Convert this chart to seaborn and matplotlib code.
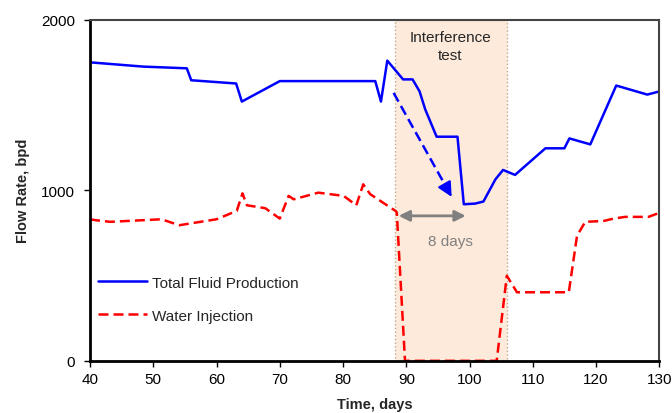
import numpy as np
import pandas as pd
import matplotlib
matplotlib.use("Agg")
import matplotlib.pyplot as plt
import seaborn as sns

# values
prod_days = [40, 48.4, 55.3, 56, 63.1, 64, 70, 85.1, 86, 87, 89.5, 91, 92.1, 93, 94.8,
             98.1, 99.1, 100.9, 102.2, 104.1, 105.3, 107.2, 112, 115, 115.8, 119.1,
             123.2, 128.1, 130.2]
prod_rate = [1750, 1725, 1715, 1645, 1626, 1520, 1640, 1640, 1520, 1760, 1650, 1650,
             1580, 1474, 1314, 1314, 918, 922, 934, 1064, 1119, 1090, 1246, 1246,
             1304, 1269, 1614, 1561, 1581]

inj_days = [40, 40.8, 43.2, 51.3, 54.1, 60, 63.2, 64.1, 64.8, 67.7, 70, 71.4, 72.2,
            76.1, 80.1, 82.1, 83.2, 84.3, 88.3, 88.5, 89.8, 104.3, 105.9, 107.5,
            115.7, 117, 118.3, 121.2, 122.8, 124.6, 128.3, 130.4]
inj_rate = [830, 825, 815, 830, 795, 830, 879, 982, 912, 895, 834, 967, 947,
            986, 967, 912, 1035, 977, 879, 870, 0, 0, 499, 402,
            402, 733, 815, 820, 834, 844, 844, 873]

test_start, test_end = 88.2, 105.9

prod = pd.DataFrame({"Time": prod_days, "Rate": prod_rate})
inj = pd.DataFrame({"Time": inj_days, "Rate": inj_rate})

sns.set_style("white")
plt.rcParams["font.family"] = ["Liberation Sans", "DejaVu Sans"]

fig = plt.figure(figsize=(6.72, 4.14), dpi=100)
ax = fig.add_axes([0.134, 0.126, 0.847, 0.824])

ax.axvspan(test_start, test_end, facecolor="#fdeadb", edgecolor="#bfa888",
           linestyle=":", linewidth=1, zorder=0)

sns.lineplot(data=prod, x="Time", y="Rate", ax=ax, color="#0000ff", lw=1.8,
             label="Total Fluid Production", sort=False, estimator=None)
sns.lineplot(data=inj, x="Time", y="Rate", ax=ax, color="#ff0000", lw=1.8,
             label="Water Injection", sort=False, estimator=None)
ax.lines[1].set_dashes([4, 2])

# dashed decline arrow
ax.plot([88.0, 96.6], [1571, 1000], color="#0000ff", lw=1.8, ls=(0, (4, 2)))
ax.annotate("", xy=(97.4, 947), xytext=(96.4, 1012),
            arrowprops=dict(arrowstyle="-|>", color="#0000ff", lw=1.5,
                            mutation_scale=22))

# 8 day span arrow
ax.annotate("", xy=(88.8, 850), xytext=(99.4, 850),
            arrowprops=dict(arrowstyle="<|-|>", color="#808080", lw=2,
                            mutation_scale=16, shrinkA=0, shrinkB=0))
ax.text(97, 705, "8 days", color="#808080", fontsize=11, ha="center", va="center")
ax.text(97, 1845, "Interference\ntest", fontsize=11, ha="center", va="center",
        linespacing=1.4)

ax.set_xlim(40, 130)
ax.set_ylim(0, 2000)
ax.set_xticks(range(40, 131, 10))
ax.set_yticks([0, 1000, 2000])
ax.set_xlabel("Time, days", fontsize=10.5, fontweight="bold", labelpad=8)
ax.set_ylabel("Flow Rate, bpd", fontsize=10.5, fontweight="bold", labelpad=8)
ax.tick_params(axis="both", direction="out", length=4, width=1, colors="black",
               labelsize=11, left=True, bottom=True)
ax.tick_params(axis="y", pad=7)
ax.tick_params(axis="x", pad=4)

for side in ["left", "bottom"]:
    ax.spines[side].set_color("black")
    ax.spines[side].set_linewidth(2)
for side in ["top", "right"]:
    ax.spines[side].set_color("#444444")
    ax.spines[side].set_linewidth(1.5)

ax.legend(loc="center left", bbox_to_anchor=(0.014, 0.181), frameon=False,
          borderpad=0, borderaxespad=0, handlelength=3.2, handletextpad=0.35,
          labelspacing=1.25, fontsize=11)

fig.savefig("out.png", dpi=100)
